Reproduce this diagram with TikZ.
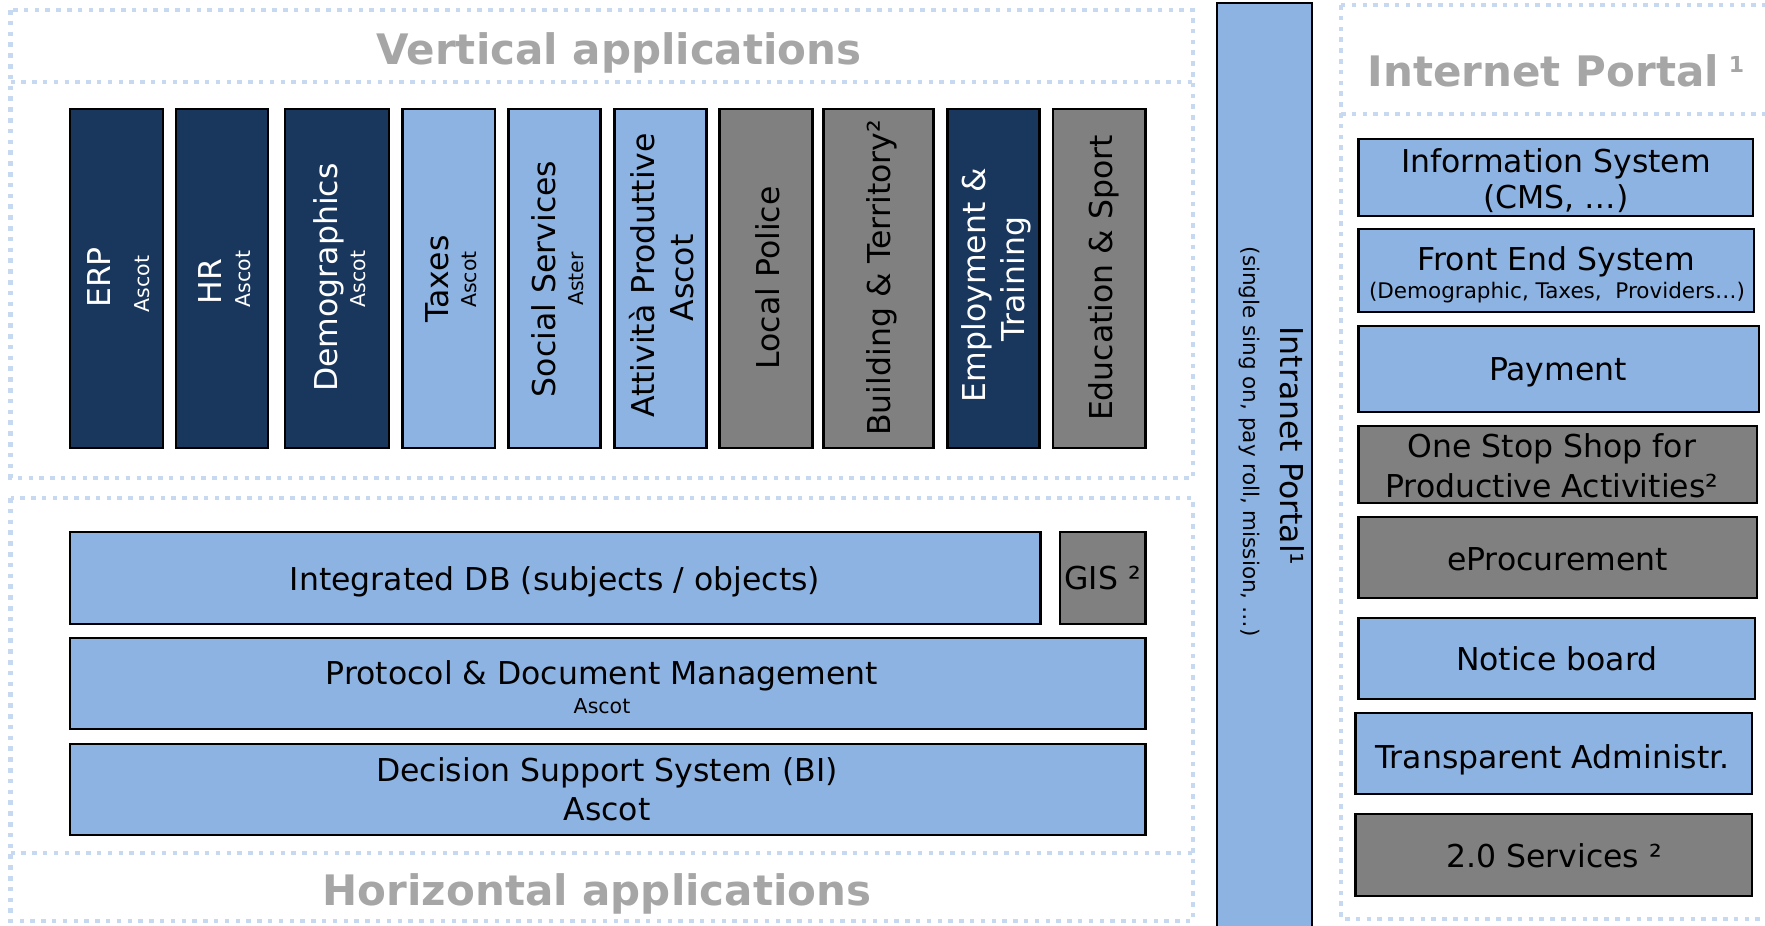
\documentclass[tikz,border=0pt]{standalone}
\usepackage{fontspec}
\setmainfont{DejaVu Sans}
\definecolor{navyfill}{HTML}{19365D}
\definecolor{lightfill}{HTML}{8DB3E2}
\definecolor{grayfill}{HTML}{808080}
\definecolor{titlegray}{HTML}{A6A6A6}
\definecolor{dotblue}{HTML}{C6D9F1}
\begin{document}
\begin{tikzpicture}[x=1pt,y=-1pt]
\tikzset{
  frame/.style={draw=dotblue, line width=4.5pt, dash pattern=on 4.5pt off 6.3pt},
  box/.style={draw=black, line width=2.7pt, inner sep=0pt},
  navybox/.style={box, fill=navyfill},
  bluebox/.style={box, fill=lightfill},
  graybox/.style={box, fill=grayfill},
  col/.style={minimum height=339pt},
  lbl/.style={inner sep=0pt, anchor=base, font=\fontsize{31.5}{38}\selectfont},
  sublbl/.style={inner sep=0pt, anchor=base, font=\fontsize{20.5}{24}\selectfont},
  longsub/.style={inner sep=0pt, anchor=base, font=\fontsize{21.5}{25}\selectfont},
  up/.style={rotate=90},
  down/.style={rotate=-90},
  wt/.style={text=white},
  title/.style={text=titlegray, inner sep=0pt, font=\bfseries\fontsize{42}{50}\selectfont}
}
\useasboundingbox (0,0) rectangle (1765,926);
\fill[white] (0,0) rectangle (1765,926);

% dotted frames
\draw[frame] (10.5,10) rectangle (1193,478);
\draw[frame] (10.5,82) -- (1193,82);
\draw[frame] (10.5,498) rectangle (1193,921);
\draw[frame] (10.5,853) -- (1193,853);
\draw[frame] (1341,5) rectangle (1790,919);
\draw[frame] (1341,114) -- (1790,114);

% titles
\node[title, anchor=base] (vt) at (619,64) {Vertical applications};
\node[title, anchor=base] (ht) at (597,905) {Horizontal applications};
\node[title, anchor=base west] (it) at (1367.6,86) {Internet Portal\hspace{10pt}\raisebox{14pt}{\fontsize{22}{22}\selectfont 1}};

% vertical applications: boxes
\node[navybox, col, minimum width=93pt] (erp) at (116.5,278.5) {};
\node[navybox, col, minimum width=92pt] (hr) at (222,278.5) {};
\node[navybox, col, minimum width=104pt] (demo) at (337,278.5) {};
\node[bluebox, col, minimum width=92.5pt] (tax) at (448.75,278.5) {};
\node[bluebox, col, minimum width=92.1pt] (soc) at (554.55,278.5) {};
\node[bluebox, col, minimum width=92.2pt] (att) at (660.7,278.5) {};
\node[graybox, col, minimum width=92.9pt] (pol) at (766.25,278.5) {};
\node[graybox, col, minimum width=109.5pt] (bld) at (878.55,278.5) {};
\node[navybox, col, minimum width=92.5pt] (emp) at (993.45,278.5) {};
\node[graybox, col, minimum width=92.7pt] (edu) at (1099.35,278.5) {};

% vertical applications: texts
\node[lbl, up, wt] (erpA) at (110,277.5) {ERP};
\node[sublbl, up, wt] (erpB) at (149.3,284) {Ascot};
\node[lbl, up, wt] (hrA) at (221.7,281.5) {HR};
\node[sublbl, up, wt] (hrB) at (250,279) {Ascot};
\node[lbl, up, wt] (demoA) at (337,277.5) {Demographics};
\node[sublbl, up, wt] (demoB) at (365,279) {Ascot};
\node[lbl, up] (taxA) at (448.3,279) {Taxes};
\node[sublbl, up] (taxB) at (476.7,279.5) {Ascot};
\node[lbl, up] (socA) at (555.5,279) {Social Services};
\node[sublbl, up] (socB) at (583,279) {Aster};
\node[lbl, up] (attA) at (654,275.5) {Attività Produttive};
\node[lbl, up] (attB) at (693,278) {Ascot};
\node[lbl, up] (polA) at (779.5,278) {Local Police};
\node[lbl, up] (bldA) at (890,278) {Building \& Territory²};
\node[lbl, up, wt] (empA) at (985,285) {Employment \&};
\node[lbl, up, wt] (empB) at (1024,279) {Training};
\node[lbl, up] (eduA) at (1112,278) {Education \& Sport};

% horizontal applications
\node[bluebox, minimum width=970.5pt, minimum height=92pt] (idb) at (555.25,578) {};
\node[graybox, minimum width=85.5pt, minimum height=92pt] (gis) at (1102.75,578) {};
\node[bluebox, minimum width=1075.5pt, minimum height=91pt] (prot) at (607.75,683.5) {};
\node[bluebox, minimum width=1075.5pt, minimum height=91pt] (dss) at (607.75,789.5) {};
\node[lbl] (idbA) at (555,590) {Integrated DB (subjects / objects)};
\node[lbl] (gisA) at (1102.5,589.3) {GIS ²};
\node[lbl] (protA) at (602,684) {Protocol \& Document Management};
\node[sublbl] (protB) at (602,713) {Ascot};
\node[lbl] (dssA) at (607,781.7) {Decision Support System (BI)};
\node[lbl] (dssB) at (607,820) {Ascot};

% intranet
\node[bluebox, minimum width=95pt, minimum height=937pt] (intra) at (1264.5,471.5) {};
\node[lbl, down] (intraA) at (1280,446) {Intranet Portal¹};
\node[longsub, down] (intraB) at (1243,441.5) {(single sing on, pay roll, mission, …)};

% internet portal
\node[bluebox, minimum width=394.4pt, minimum height=77pt] (info) at (1555.8,177.5) {};
\node[bluebox, minimum width=395.4pt, minimum height=83pt] (front) at (1556.3,270.5) {};
\node[bluebox, minimum width=400.4pt, minimum height=86pt] (pay) at (1558.8,369) {};
\node[graybox, minimum width=398.4pt, minimum height=77pt] (oss) at (1557.8,464.5) {};
\node[graybox, minimum width=398.4pt, minimum height=81pt] (eproc) at (1557.8,557.5) {};
\node[bluebox, minimum width=396.4pt, minimum height=81pt] (notice) at (1556.8,658.5) {};
\node[bluebox, minimum width=396.3pt, minimum height=81pt] (transp) at (1553.85,753.5) {};
\node[graybox, minimum width=396.3pt, minimum height=82pt] (serv) at (1553.85,855) {};

\node[lbl] (infoA) at (1556,172) {Information System};
\node[lbl] (infoB) at (1556,208) {(CMS, …)};
\node[lbl] (frontA) at (1556.3,270.7) {Front End System};
\node[longsub] (frontB) at (1557,298) {(Demographic, Taxes,\ \ Providers…)};
\node[lbl] (payA) at (1558,380.7) {Payment};
\node[lbl] (ossA) at (1551.8,457.5) {One Stop Shop for};
\node[lbl] (ossB) at (1551.8,497) {Productive Activities²};
\node[lbl] (eprocA) at (1557.4,570) {eProcurement};
\node[lbl] (noticeA) at (1556.8,670.7) {Notice board};
\node[lbl] (transpA) at (1552.4,768) {Transparent Administr.};
\node[lbl] (servA) at (1554,867.3) {2.0 Services ²};
\end{tikzpicture}
\end{document}
